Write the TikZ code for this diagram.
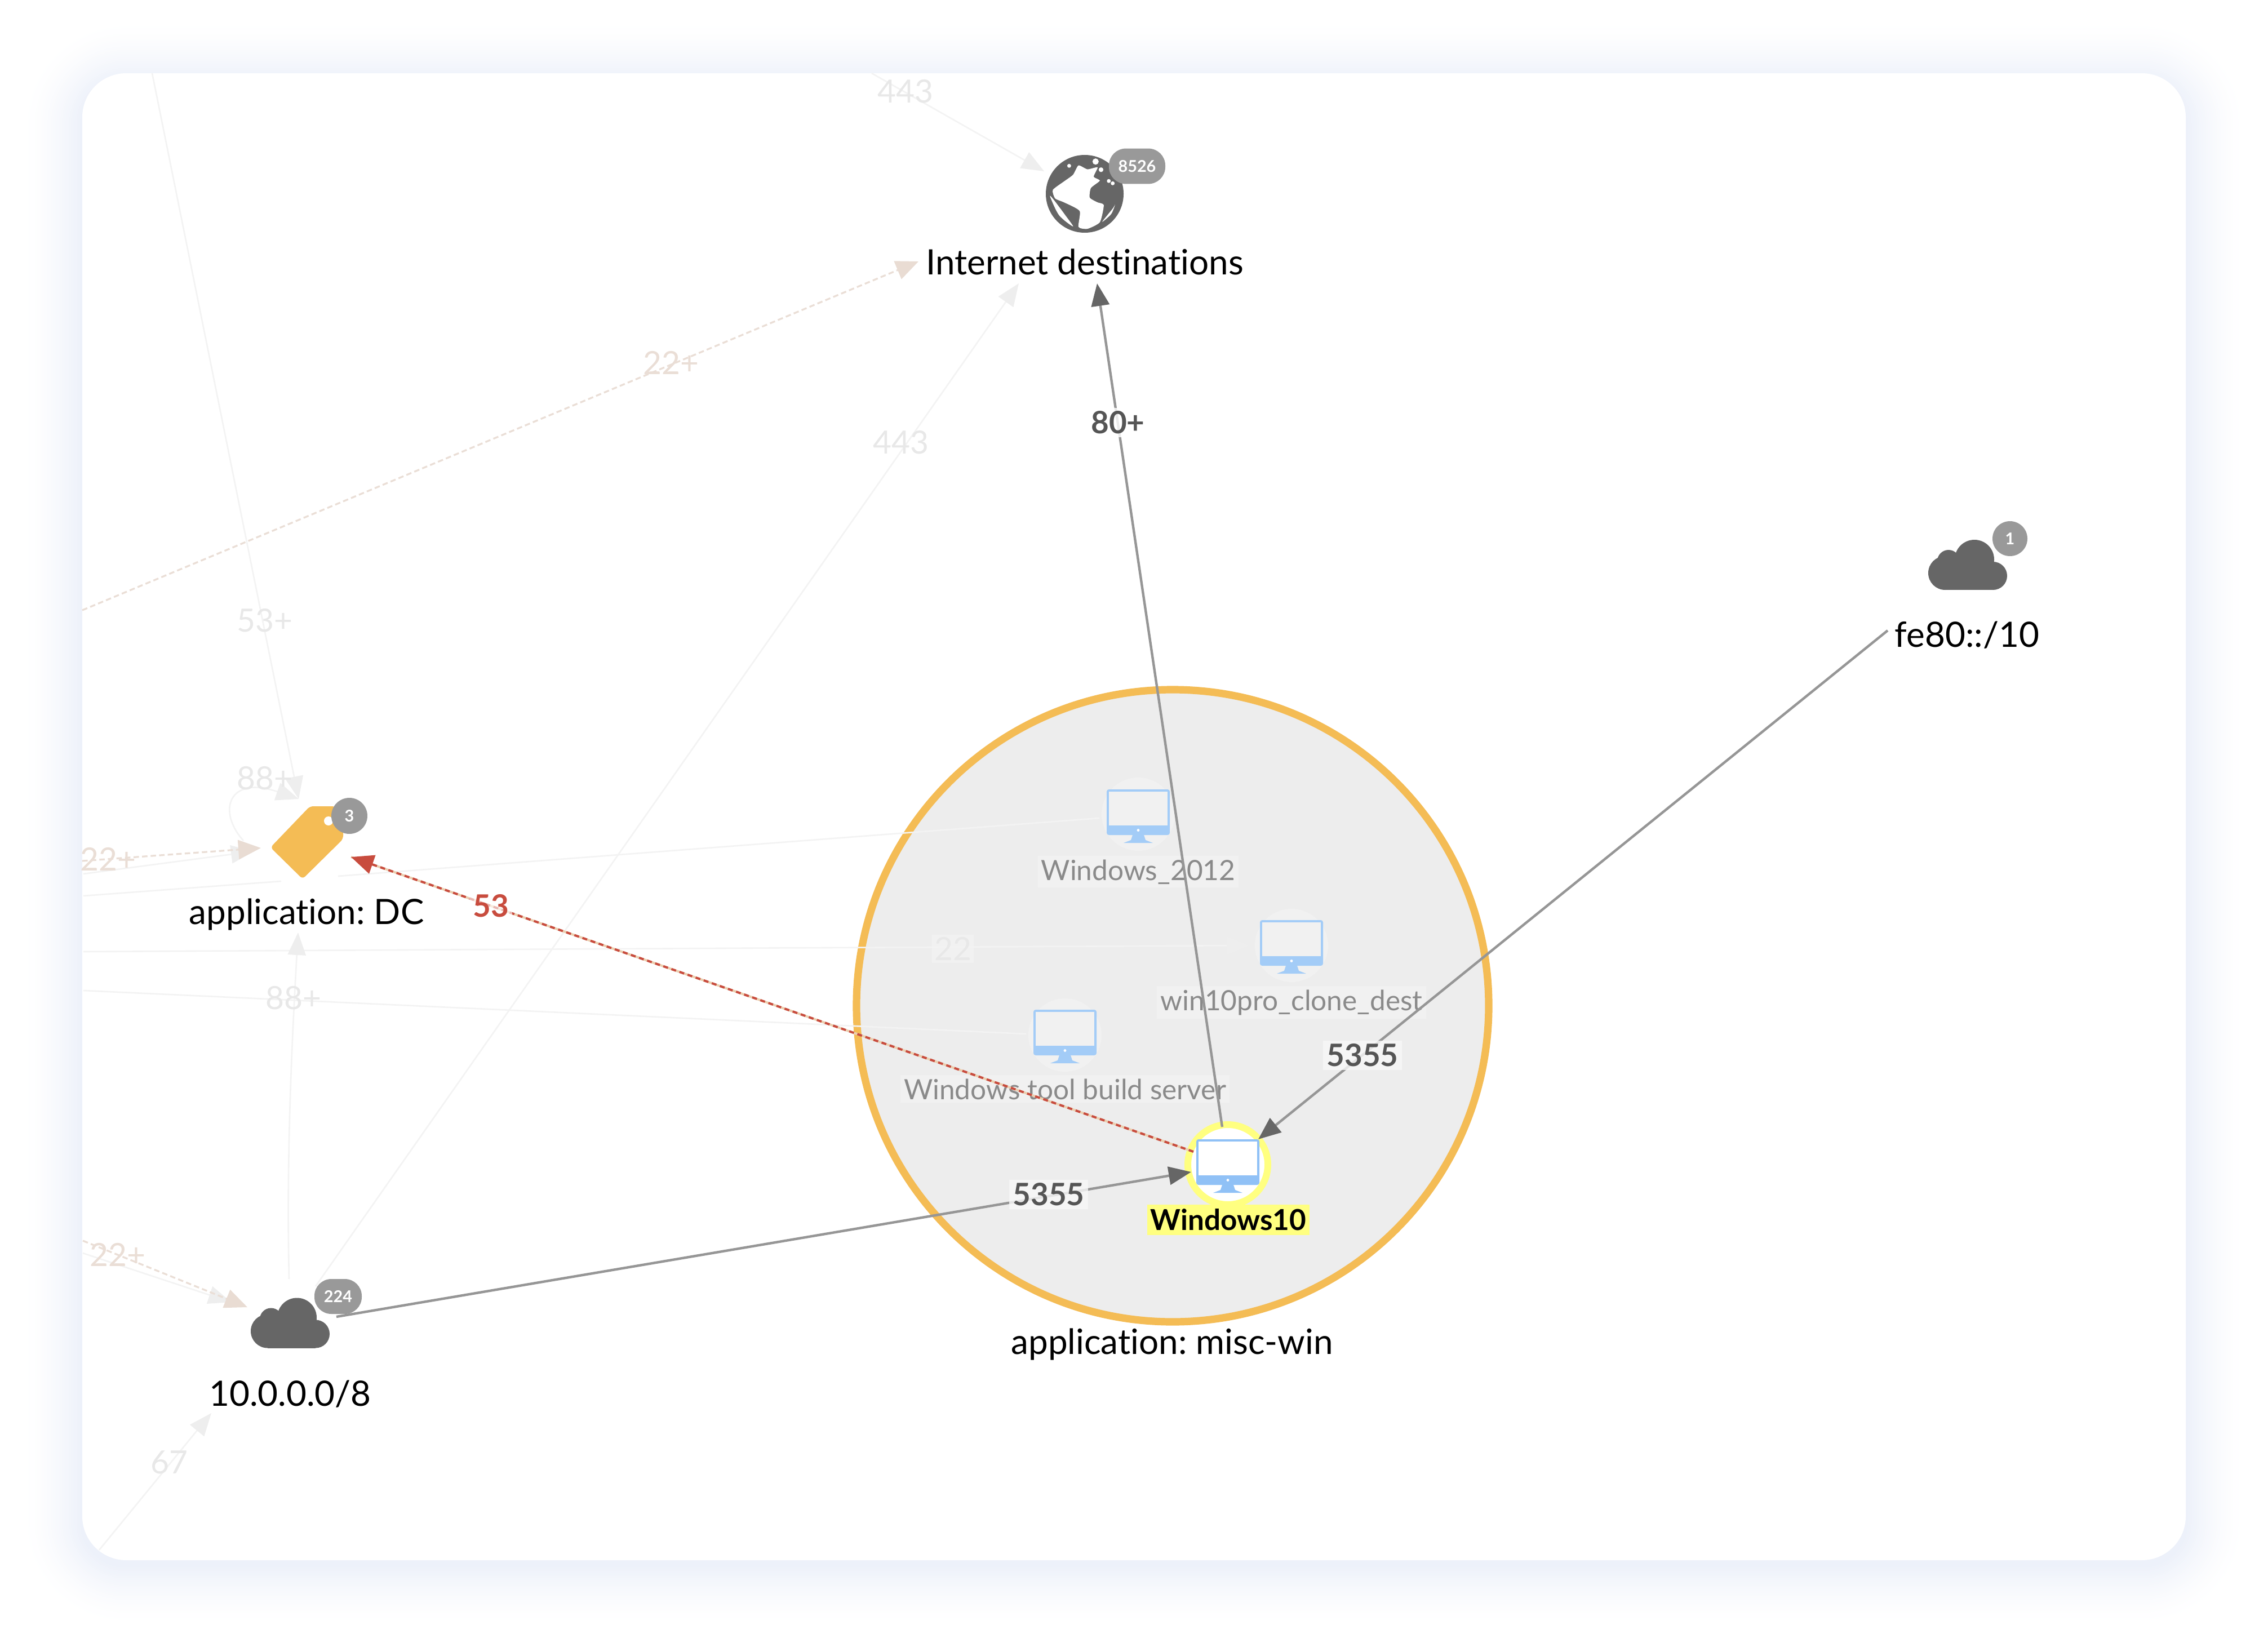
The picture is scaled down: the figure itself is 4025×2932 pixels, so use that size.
\documentclass[tikz,border=0pt]{standalone}
\usepackage{fontspec}
\setmainfont{Lato}[Ligatures=CommonOff]
\usetikzlibrary{arrows.meta,calc}
\frenchspacing
\definecolor{shadowc}{HTML}{EDF1FA}
\definecolor{orangec}{HTML}{F4BC55}
\definecolor{groupbg}{HTML}{EDEDED}
\definecolor{halo}{HTML}{F1F1F1}
\definecolor{moni}{HTML}{90C1F6}
\definecolor{monifade}{HTML}{A3CCF7}
\definecolor{darkicon}{HTML}{666666}
\definecolor{badgec}{HTML}{999999}
\definecolor{linegrey}{HTML}{969696}
\definecolor{headgrey}{HTML}{666666}
\definecolor{faint}{HTML}{F3F3F3}
\definecolor{fainthead}{HTML}{EEEEEE}
\definecolor{tan}{HTML}{EADED6}
\definecolor{tanhead}{HTML}{E9DCD3}
\definecolor{redc}{HTML}{C84C3E}
\definecolor{redunder}{HTML}{EBCFB0}
\definecolor{yellowc}{HTML}{FFFF80}
\definecolor{labgrey}{HTML}{8A8A8A}
\definecolor{edgegrey}{HTML}{555555}
\tikzset{
  mainlabel/.style={font=\fontsize{15.5}{18}\selectfont,text=black,inner sep=0pt,anchor=base},
  hostlabel/.style={font=\fontsize{12.4}{15}\selectfont,text=labgrey,fill=halo,inner sep=1.5pt,anchor=base},
  edgelabel/.style={font=\fontsize{13.7}{16}\bfseries\selectfont,text=edgegrey,fill=#1,fill opacity=.8,text opacity=1,inner sep=1.5pt},
  fadelabel/.style={font=\fontsize{14.2}{16}\selectfont,text=#1,inner sep=0pt},
  badge/.style={font=\fontsize{7.2}{8}\bfseries\selectfont,text=white,fill=badgec,inner sep=0pt},
  mainedge/.style={draw=linegrey,line width=1.1pt,-{Triangle[length=10pt,width=8pt,color=headgrey]}},
  redge/.style={draw=redc,line width=1pt,dash pattern=on 2.2pt off 1.6pt,
     preaction={draw=redunder,solid,line width=1pt,-},
     -{Triangle[length=10pt,width=8.5pt,color=redc]}},
  faintedge/.style={draw=faint,line width=.65pt,-{Triangle[length=10pt,width=8pt,color=fainthead]}},
  faintplain/.style={draw=faint,line width=.65pt},
  tanedge/.style={draw=tan,line width=.8pt,dash pattern=on 2.4pt off 1.4pt,-{Triangle[length=10pt,width=8.5pt,color=tanhead]}},
}
% monitor icon: centre, colour, screen colour
\newcommand{\monitoricon}[4]{%
  \begin{scope}[shift={(#1,#2)}]
    \fill[#3,rounded corners=1pt] (-56,-45) rectangle (56,36);
    \fill[#4] (-52,-41) rectangle (52,19);
    \fill[white] (0,27.5) circle (2.4);
    \fill[#3] (-10,36) -- (10,36) -- (13,45) -- (26,50) -- (-26,50) -- (-13,45) -- cycle;
  \end{scope}}
\newcommand{\cloudicon}[2]{%
  \begin{scope}[shift={(#1,#2)}]
    \fill[darkicon] (-40,14.5) circle (30);
    \fill[darkicon] (-34,-6.5) circle (20);
    \fill[darkicon] (12,-9.5) circle (35);
    \fill[darkicon] (45,19.5) circle (25);
    \fill[darkicon] (-40,-6) rectangle (45,44.5);
  \end{scope}}
\begin{document}
\begin{tikzpicture}[x=.25pt,y=-.25pt]
\useasboundingbox (0,0) rectangle (4025,2932);
\fill[white] (0,0) rectangle (4025,2932);
% soft shadow
\foreach \i in {0,...,32}{
  \pgfmathsetmacro{\ex}{106-3.2*\i}
  \pgfmathsetmacro{\pc}{100*(\i/32)^1.6}
  \pgfmathsetmacro{\rr}{(77+\ex)*.25}
  \fill[shadowc!\pc!white,rounded corners=\rr pt] (146-\ex,144-\ex) rectangle (3879+\ex,2778+\ex);
}
% panel
\fill[white,rounded corners=19.5pt] (146,130) rectangle (3879,2769);
% group circle
\node[circle,draw=orangec,fill=groupbg,line width=3.3pt,minimum size=280.5pt,inner sep=0pt] (group) at (2081,1785) {};
\node[mainlabel] (grouplab) at (2080,2403) {application: misc-win};

% host icons
\node[circle,fill=halo,minimum size=32.5pt,inner sep=0pt] (h2012) at (2020,1445) {};
\monitoricon{2020}{1446}{monifade}{halo}
\node[hostlabel] (h2012lab) at (2020,1562) {Windows\_2012};
\node[circle,fill=halo,minimum size=32.5pt,inner sep=0pt] (hclone) at (2292,1678) {};
\monitoricon{2292}{1678}{monifade}{halo}
\node[hostlabel] (hclonelab) at (2292,1793) {win10pro\_clone\_dest};
\node[circle,fill=halo,minimum size=32.5pt,inner sep=0pt] (htool) at (1890,1837) {};
\monitoricon{1890}{1837}{monifade}{halo}
\node[hostlabel] (htoollab) at (1890,1951) {Windows tool build server};
\node[circle,draw=yellowc,fill=white,line width=3pt,minimum size=35.5pt,inner sep=0pt] (win10) at (2179,2067) {};
\monitoricon{2179}{2067}{moni}{white}
\node[font=\fontsize{12.8}{15}\bfseries\selectfont,text=black,fill=yellowc,minimum width=72pt,minimum height=13.5pt,inner sep=0pt] (win10lab) at (2180,2165) {Windows10};

% other nodes
\begin{scope}[shift={(1925,344)},x=17.25pt,y=-17.25pt]
  \node[circle,fill=darkicon,minimum size=34.5pt,inner sep=0pt] (globe) at (0,0) {};
  \fill[white] plot[smooth cycle,tension=.35] coordinates {(.33,-.68) (.23,-.44) (.39,-.34) (.16,-.15) (.13,.1) (.33,.22) (.49,.29) (.39,.73) (.07,.9) (-.16,.85) (-.13,.44) (-.53,.22) (-.76,.12) (-.82,-.1) (-.53,-.32) (-.3,-.49) (-.16,-.73) (.07,-.63)};
  \fill[white] plot[smooth cycle,tension=.5] coordinates {(-.89,.07) (-.66,.55) (-.3,.84) (-.5,.55) (-.8,.15)};
  \fill[white] (-.4,-.72) circle (.05) (.28,-.83) circle (.08) (.42,-.62) circle (.06) (.62,-.33) circle (.05) (.72,-.27) circle (.05);
  \fill[white] plot[smooth cycle,tension=.5] coordinates {(.45,.72) (.72,.38) (.78,.28) (.68,.52)};
\end{scope}
\node[badge,rounded corners=7.5pt,minimum width=25pt,minimum height=15.7pt] (inetbadge) at (2018,295) {8526};
\node[mainlabel] (inetlab) at (1925,488) {Internet destinations};

\cloudicon{3492}{1002.5}
\coordinate (cloudfe) at (3492,1002);
\node[badge,circle,minimum size=15.5pt] (febadge) at (3567,956) {1};
\node[mainlabel] (felab) at (3491,1148) {fe80::/10};

\cloudicon{515}{2348}
\coordinate (cloudten) at (515,2348);
\node[badge,rounded corners=7.5pt,minimum width=21pt,minimum height=15.5pt] (tenbadge) at (600,2301) {224};
\node[mainlabel] (tenlab) at (515,2495) {10.0.0.0/8};

\fill[orangec,rounded corners=1.5pt] (550,1431) -- (595,1431) -- (609,1445) -- (609,1489) -- (537,1560) -- (480,1504) -- cycle;
\fill[white] (583,1457) circle (8);
\coordinate (tag) at (544,1497);
\node[badge,circle,minimum size=16pt] (tagbadge) at (620,1448) {3};
\node[mainlabel] (taglab) at (544,1640) {application: DC};

% end points
\coordinate (inettipmain) at (1947,503);
\coordinate (inettipfaint) at (1808,503);
\coordinate (inettiptop) at (1853,304);
\coordinate (inettiptan) at (1630,464);
\coordinate (toptail) at (1547,130);
\coordinate (lefttail) at (146,1083);
\coordinate (tenout) at (560,2283);
\coordinate (tenup) at (513,2270);
\coordinate (tagbelow) at (529,1655);
\coordinate (tagtop) at (530,1418);
\coordinate (toptail2) at (270,130);
\coordinate (tagtan) at (463,1505);
\coordinate (tagtail) at (146,1528);
\coordinate (tagtip2) at (450,1511);
\coordinate (tagtail2) at (148,1551);
\coordinate (tentan) at (439,2320);
\coordinate (tentail) at (147,2202);
\coordinate (tenfaint) at (410,2311);
\coordinate (tentail2) at (147,2224);
\coordinate (ten67) at (375,2508);
\coordinate (tail67) at (176,2751);
\coordinate (hcl) at (2217,1678);
\coordinate (redtip) at (623,1521);
\coordinate (loopa) at (432,1492);
\coordinate (panela) at (148,1590);
\coordinate (taga) at (499,1564);
\coordinate (tagb) at (600,1555);
\coordinate (host12) at (1951,1452);
\coordinate (panelb) at (148,1689);
\coordinate (panelc) at (148,1758);
\coordinate (toolw) at (1821,1835);
\coordinate (fetail) at (3350,1119);
\coordinate (tenmain) at (597,2337);
\coordinate (winin1) at (2233,2022);
\coordinate (winin2) at (2114,2080);
\coordinate (winout1) at (2169,2000);
\coordinate (winout2) at (2118,2044);

% faded connectors
\draw[faintedge] (toptail) -- (inettiptop);
\draw[tanedge] (lefttail) -- (inettiptan);
\draw[faintedge] (tenout) -- (inettipfaint);
\draw[faintedge] (toptail2) -- (tagtop);
\draw[faintedge] (loopa) .. controls (385,1440) and (405,1375) .. (tagtop);
\draw[faintedge] (tagtail2) -- (tagtip2);
\draw[tanedge] (tagtail) -- (tagtan);
\draw[faintplain] (panela) -- (taga);
\draw[faintplain] (tagb) -- (host12);
\draw[faintedge] (panelb) -- (hcl);
\draw[faintplain] (panelc) -- (toolw);
\draw[faintedge] (tenup) .. controls (508,2050) and (518,1850) .. (tagbelow);
\draw[faintedge] (tentail2) -- (tenfaint);
\draw[tanedge] (tentail) -- (tentan);
\draw[faintedge] (tail67) -- (ten67);

% active connectors
\draw[mainedge] (winout1) -- (inettipmain);
\draw[mainedge] (fetail) -- (winin1);
\draw[mainedge] (tenmain) -- (winin2);
\draw[redge] (winout2) -- (redtip);

% connector labels
\node[fadelabel=faint!90!gray] (l443a) at (1607,162) {443};
\node[fadelabel=faint!90!gray] (l443b) at (1599,785) {443};
\node[fadelabel=tan] (l22a) at (1191,644) {22+};
\node[fadelabel=faint!90!gray] (l53p) at (470,1101) {53+};
\node[fadelabel=faint!90!gray] (l88a) at (470,1381) {88+};
\node[fadelabel=tan] (l22b) at (192,1525) {22+};
\node[fadelabel=faint!90!gray] (l88b) at (521,1771) {88+};
\node[fadelabel=tan] (l22c) at (209,2227) {22+};
\node[fadelabel=faint!90!gray] (l67) at (300,2595) {67};
\node[fadelabel=faint!90!gray,fill=groupbg!60!white,fill opacity=.6,text opacity=1,inner sep=1pt] (l22d) at (1691,1684) {22};
\node[edgelabel=white] (l80) at (1984,750) {80+};
\node[edgelabel=groupbg!40!white] (l5355a) at (2418,1873) {5355};
\node[edgelabel=groupbg!40!white] (l5355b) at (1861,2120) {5355};
\node[edgelabel=white,text=redc,fill opacity=.6] (l53) at (871,1608) {53};
\end{tikzpicture}
\end{document}
